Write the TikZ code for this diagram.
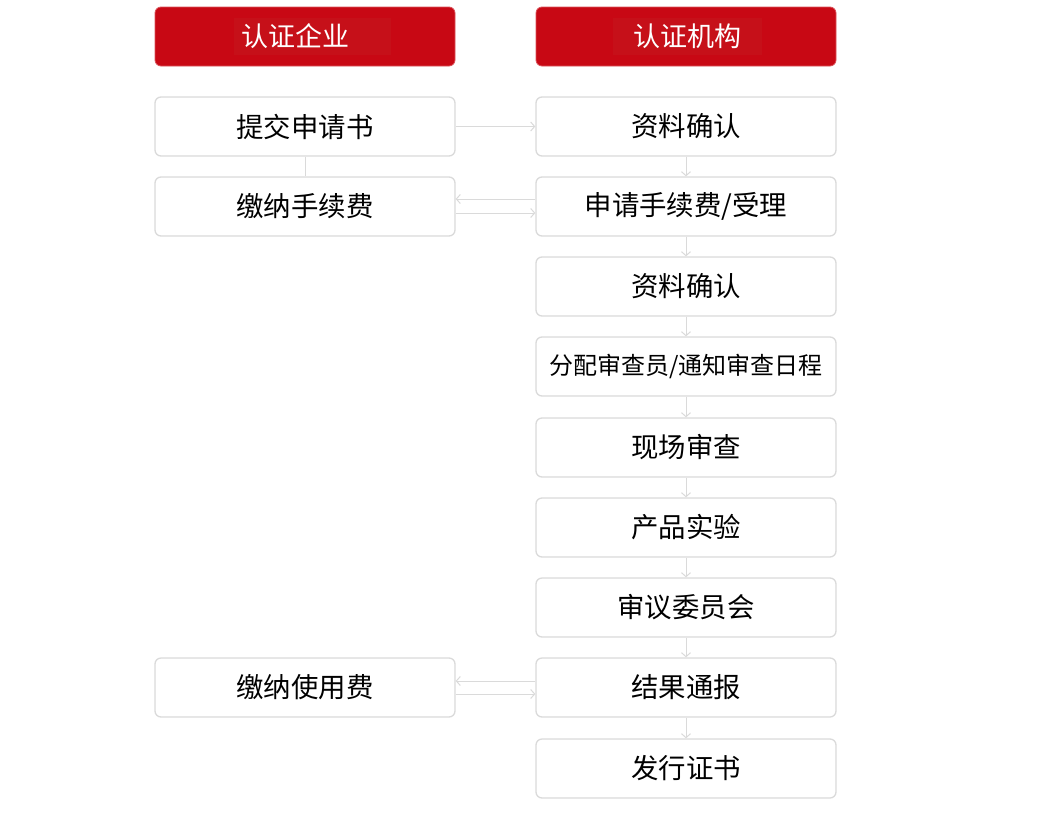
\documentclass[tikz,border=0pt]{standalone}
\usepackage{fontspec}
\setmainfont{Noto Sans CJK SC}
\usepackage{xcolor}
\usetikzlibrary{arrows.meta, positioning}

\definecolor{headred}{RGB}{200,8,20}
\definecolor{headinner}{RGB}{198,16,25}
\definecolor{edgegray}{RGB}{218,218,218}

\begin{document}
\begin{tikzpicture}[
  x=1pt, y=-1pt,
  head/.style={rectangle, rounded corners=6pt, fill=headred, draw=headred!70, line width=0.8pt, minimum width=300pt, minimum height=59pt, inner sep=0pt},
  headtxt/.style={fill=headinner, text=white, font=\fontsize{27}{32}\selectfont, minimum width=149pt, minimum height=37pt, inner sep=0pt},
  box/.style={rectangle, rounded corners=6pt, draw=edgegray, line width=1.3pt, fill=white, minimum width=300pt, minimum height=59pt, inner sep=0pt, align=center, font=\fontsize{27.4}{32}\selectfont},
  arrow/.style={-{Straight Barb[length=4pt, width=9pt]}, draw=edgegray, line width=1pt},
  link/.style={draw=edgegray, line width=1pt}
]
\useasboundingbox (0,0) rectangle (1060,828);

% Headers
\node[head] (hcomp) at (305, 36.5) {};
\node[headtxt, text width=141pt, inner xsep=8pt, align=left] (hcomptxt) at (312, 36.5) {认证企业};
\node[head] (hinst) at (686, 36.5) {};
\node[headtxt] (hinsttxt) at (687.5, 36.5) {认证机构};

% Company side
\node[box] (apply) at (305, 126.5) {提交申请书};
\node[box] (payfee) at (305, 206.5) {缴纳手续费};
\node[box] (payuse) at (305, 687.5) {缴纳使用费};

% Institution side
\node[box] (check1) at (686, 126.5) {资料确认};
\node[box] (accept) at (686, 206.5) {申请手续费/受理};
\node[box] (check2) at (686, 286.5) {资料确认};
\node[box, font=\fontsize{24}{28}\selectfont] (assign) at (686, 366.5) {分配审查员/通知审查日程};
\node[box] (onsite) at (686, 447.5) {现场审查};
\node[box] (test) at (686, 527.5) {产品实验};
\node[box] (board) at (686, 607.5) {审议委员会};
\node[box] (result) at (686, 687.5) {结果通报};
\node[box] (issue) at (686, 768.5) {发行证书};

% Connections
\draw[arrow] (apply) -- (check1);
\draw[link] (apply) -- (payfee);
\draw[arrow] ([yshift=7.5pt]accept.west) -- ([yshift=7.5pt]payfee.east);
\draw[arrow] ([yshift=-6.5pt]payfee.east) -- ([yshift=-6.5pt]accept.west);
\draw[arrow] ([yshift=6.5pt]result.west) -- ([yshift=6.5pt]payuse.east);
\draw[arrow] ([yshift=-6.5pt]payuse.east) -- ([yshift=-6.5pt]result.west);

\foreach \a/\b in {check1/accept, accept/check2, check2/assign, assign/onsite, onsite/test, test/board, board/result, result/issue}
  \draw[arrow] (\a) -- (\b);

\end{tikzpicture}
\end{document}
